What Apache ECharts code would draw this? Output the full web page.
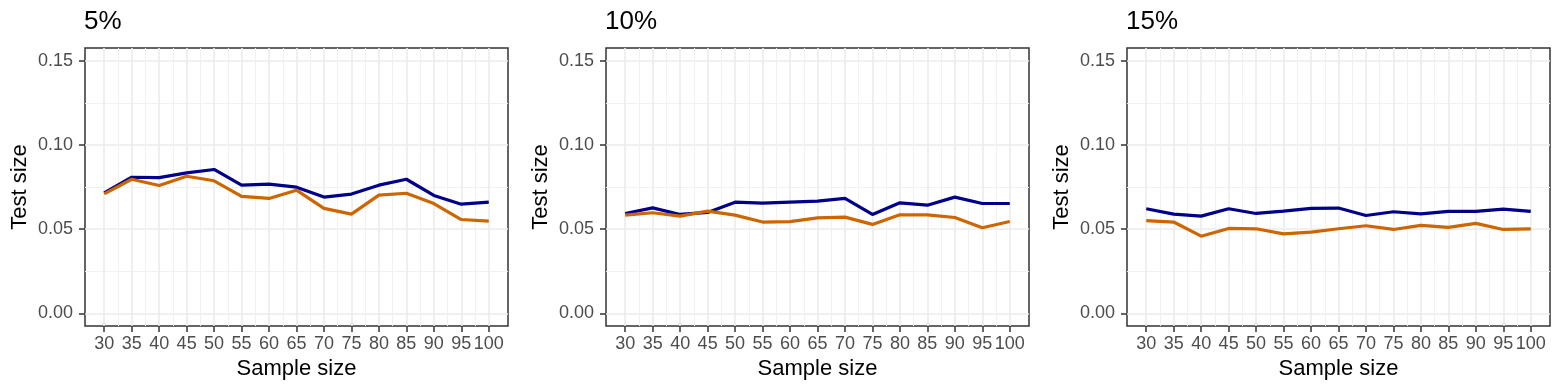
<!DOCTYPE html>
<html>
<head>
<meta charset="utf-8">
<script src="https://cdn.jsdelivr.net/npm/echarts@6/dist/echarts.min.js"></script>
<style>
  html, body { margin: 0; padding: 0; background: #fff; }
  #chart { width: 1563px; height: 392px; }
</style>
</head>
<body>
<div id="chart"></div>
<script>
// sample sizes on the x axis
const sampleSizes = [30, 35, 40, 45, 50, 55, 60, 65, 70, 75, 80, 85, 90, 95, 100];
const minorX = [32.5, 37.5, 42.5, 47.5, 52.5, 57.5, 62.5, 67.5, 72.5, 77.5, 82.5, 87.5, 92.5, 97.5];
const yTicks = [0, 0.05, 0.1, 0.15];
const minorY = [0.025, 0.075, 0.125];
const panelTitles = ['5%', '10%', '15%'];

// test size, blue line
const blue5 = [0.0715, 0.0808, 0.0806, 0.0834, 0.0854, 0.0761, 0.0767, 0.0749, 0.0690, 0.0708, 0.0761, 0.0796, 0.0700, 0.0648, 0.0660];
const blue10 = [0.0593, 0.0626, 0.0587, 0.0599, 0.0660, 0.0654, 0.0660, 0.0666, 0.0682, 0.0587, 0.0656, 0.0642, 0.0690, 0.0652, 0.0652];
const blue15 = [0.0621, 0.0589, 0.0577, 0.0621, 0.0593, 0.0607, 0.0623, 0.0625, 0.0581, 0.0603, 0.0591, 0.0605, 0.0605, 0.0619, 0.0605];

// test size, orange line
const orange5 = [0.0709, 0.0796, 0.0759, 0.0814, 0.0787, 0.0694, 0.0682, 0.0731, 0.0623, 0.0589, 0.0702, 0.0713, 0.0652, 0.0557, 0.0547];
const orange10 = [0.0583, 0.0597, 0.0577, 0.0607, 0.0583, 0.0542, 0.0545, 0.0567, 0.0571, 0.0528, 0.0585, 0.0585, 0.0569, 0.0508, 0.0545];
const orange15 = [0.0551, 0.0542, 0.0458, 0.0504, 0.0502, 0.0472, 0.0482, 0.0502, 0.0520, 0.0498, 0.0522, 0.0510, 0.0534, 0.0498, 0.0502];

const blueSets = [blue5, blue10, blue15];
const orangeSets = [orange5, orange10, orange15];

const font = 'Liberation Sans, Arial, Helvetica, sans-serif';
const panelLeft = [85, 606, 1127];
const panelWidth = 423;

const grids = [], xAxes = [], yAxes = [], series = [], titles = [];

panelLeft.forEach((left, i) => {
  grids.push({
    left: left, width: panelWidth, top: 48, height: 278,
    show: true, borderColor: '#333333', borderWidth: 1.5, backgroundColor: 'transparent'
  });
  titles.push({
    text: panelTitles[i], left: left - 1, top: 9, padding: 0,
    textStyle: { fontFamily: font, fontSize: 26, fontWeight: 'normal', color: '#000' }
  });
  // minor x grid
  xAxes.push({
    type: 'value', gridIndex: i, min: 26.5, max: 103.5, position: 'top',
    axisLine: { show: false, onZero: false }, axisLabel: { show: false },
    axisTick: { show: false, customValues: minorX },
    splitLine: { show: true, lineStyle: { color: '#f1f1f1', width: 1 } }
  });
  // main x axis
  xAxes.push({
    type: 'value', gridIndex: i, min: 26.5, max: 103.5, position: 'bottom',
    name: 'Sample size', nameLocation: 'middle', nameGap: 30,
    nameTextStyle: { fontFamily: font, fontSize: 22, color: '#000' },
    axisLine: { show: false, onZero: false },
    axisTick: { show: true, inside: false, length: 6, customValues: sampleSizes, lineStyle: { color: '#333333', width: 1.5 } },
    axisLabel: { customValues: sampleSizes, margin: 9, fontFamily: font, fontSize: 18, color: '#4d4d4d' },
    splitLine: { show: true, lineStyle: { color: '#ebebeb', width: 1.6 } }
  });
  // minor y grid
  yAxes.push({
    type: 'value', gridIndex: i, min: -0.0075, max: 0.1575, position: 'right',
    axisLine: { show: false, onZero: false }, axisLabel: { show: false },
    axisTick: { show: false, customValues: minorY },
    splitLine: { show: true, lineStyle: { color: '#f1f1f1', width: 1 } }
  });
  // main y axis
  yAxes.push({
    type: 'value', gridIndex: i, min: -0.0075, max: 0.1575, position: 'left',
    name: 'Test size', nameLocation: 'middle', nameGap: 54, nameRotate: 90,
    nameTextStyle: { fontFamily: font, fontSize: 22, color: '#000' },
    axisLine: { show: false, onZero: false },
    axisTick: { show: true, inside: false, length: 6, customValues: yTicks, lineStyle: { color: '#333333', width: 1.5 } },
    axisLabel: { customValues: yTicks, margin: 12, fontFamily: font, fontSize: 18, color: '#4d4d4d',
      formatter: v => v.toFixed(2) },
    splitLine: { show: true, lineStyle: { color: '#ebebeb', width: 1.6 } }
  });

  series.push({
    type: 'line', xAxisIndex: i * 2 + 1, yAxisIndex: i * 2 + 1,
    data: sampleSizes.map((s, k) => [s, blueSets[i][k]]),
    showSymbol: false, symbol: 'none', silent: true,
    lineStyle: { color: '#00008B', width: 3.2 }, z: 3
  });
  series.push({
    type: 'line', xAxisIndex: i * 2 + 1, yAxisIndex: i * 2 + 1,
    data: sampleSizes.map((s, k) => [s, orangeSets[i][k]]),
    showSymbol: false, symbol: 'none', silent: true,
    lineStyle: { color: '#CD6600', width: 3.2 }, z: 4
  });
});

const chart = echarts.init(document.getElementById('chart'), null, { renderer: 'canvas' });
chart.setOption({
  animation: false,
  backgroundColor: '#ffffff',
  title: titles,
  grid: grids,
  xAxis: xAxes,
  yAxis: yAxes,
  series: series
});
</script>
</body>
</html>
